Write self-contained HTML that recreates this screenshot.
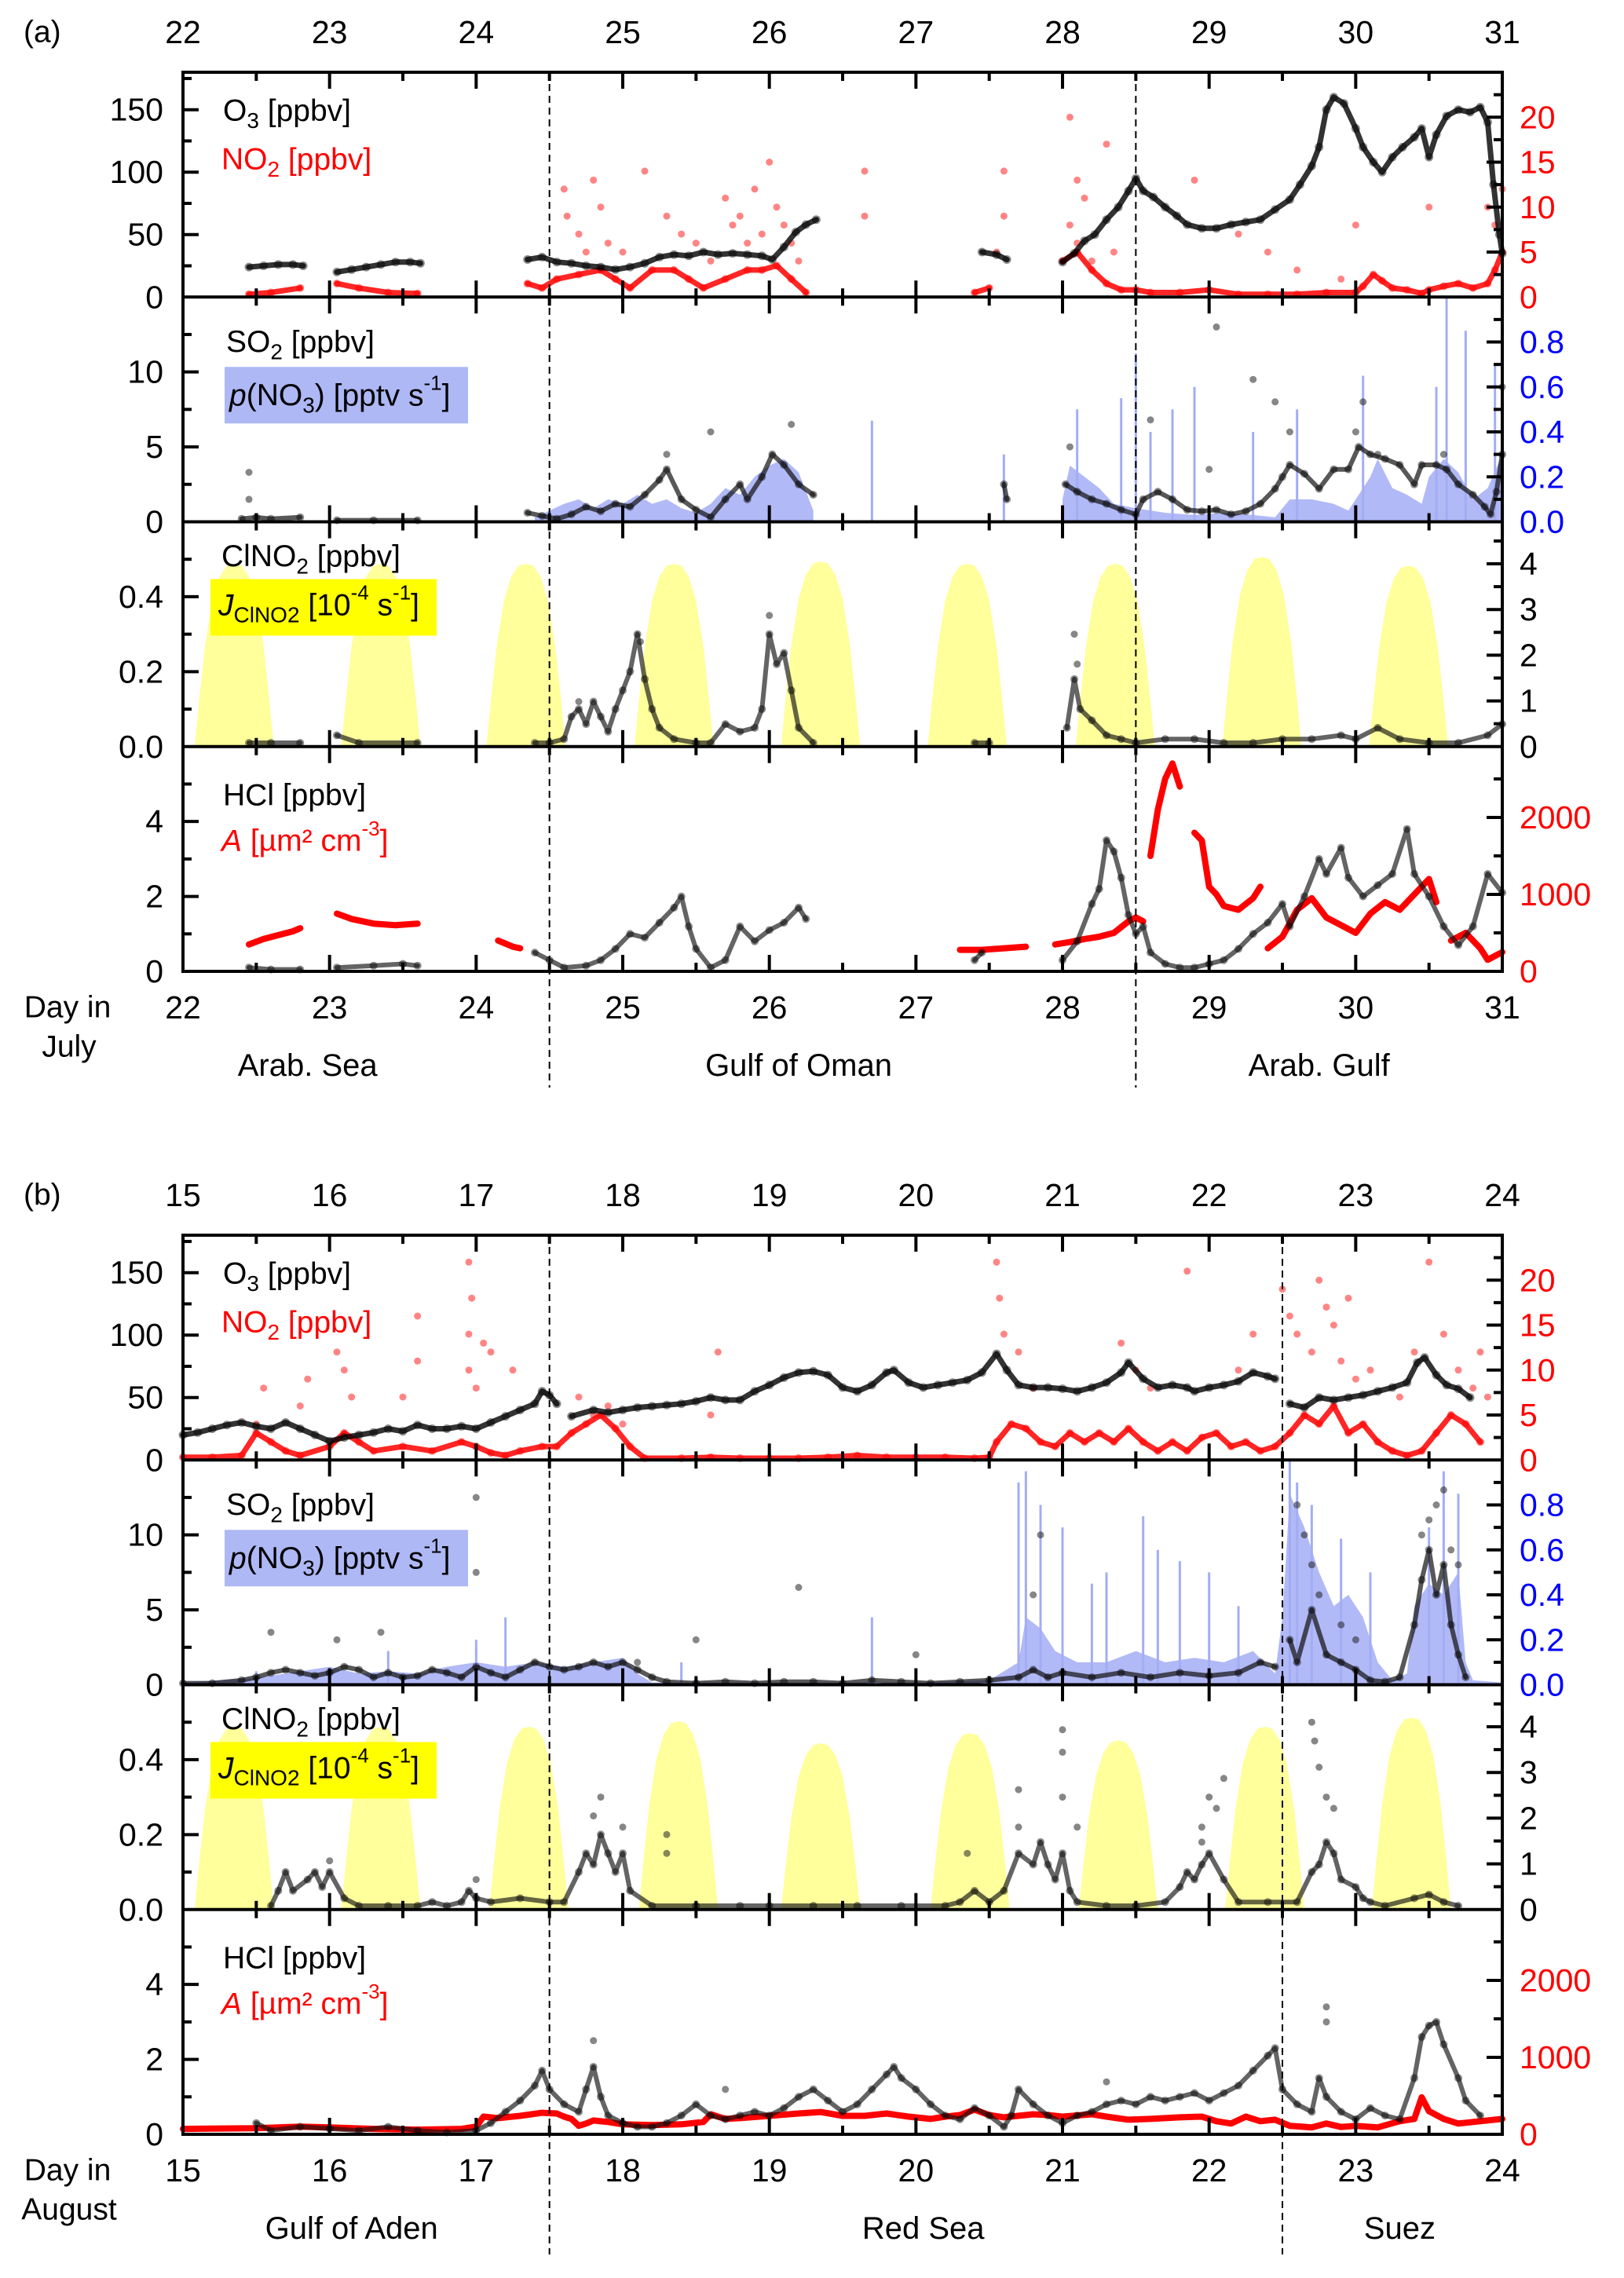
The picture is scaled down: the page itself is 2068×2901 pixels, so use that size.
<!DOCTYPE html>
<html><head><meta charset="utf-8"><title>Ship campaign trace gases</title>
<style>
html,body{margin:0;padding:0;background:#fff;}
svg{display:block;font-family:"Liberation Sans",Arial,sans-serif;}
</style></head>
<body>
<svg id="chart" xmlns="http://www.w3.org/2000/svg" width="2068" height="2901" viewBox="0 0 2068 2901"></svg>
<script>
// ---------------- DATA: panel (a), July ----------------
const daysA = [22,23,24,25,26,27,28,29,30,31];
const o3A = [[22.45,24],[22.55,25],[22.65,26],[22.75,26],[22.82,25],null,
[23.05,20],[23.15,22],[23.25,24],[23.35,26],[23.45,28],[23.55,28],[23.62,27],null,
[24.35,30],[24.45,32],[24.55,28],[24.65,27],[24.75,25],[24.85,24],[24.95,22],[25.05,24],[25.15,27],[25.25,32],[25.35,34],[25.45,33],[25.55,36],[25.65,34],[25.75,35],[25.85,34],[25.95,33],[26.02,30],[26.1,40],[26.18,52],[26.25,58],[26.32,62],null,
[27.45,36],[27.55,34],[27.62,30],null,
[28.0,28],[28.08,35],[28.15,45],[28.22,50],[28.3,62],[28.38,72],[28.45,85],[28.5,95],[28.55,85],[28.62,80],[28.7,72],[28.78,65],[28.85,58],[28.95,55],[29.05,55],[29.15,58],[29.25,60],[29.35,62],[29.45,70],[29.55,78],[29.62,90],[29.7,105],[29.75,120],[29.8,150],[29.85,160],[29.92,155],[30.0,135],[30.05,120],[30.12,108],[30.18,100],[30.25,112],[30.32,120],[30.4,128],[30.45,135],[30.5,112],[30.55,130],[30.62,145],[30.7,150],[30.78,148],[30.85,152],[30.9,140],[30.94,90],[30.98,50],[31.0,35]];
const no2A = [[22.45,0.3],[22.6,0.5],[22.8,1],null,[23.05,1.5],[23.2,1],[23.4,0.5],[23.6,0.4],null,
[24.35,1.5],[24.45,1],[24.55,2],[24.7,2.5],[24.85,3],[24.95,2],[25.05,1],[25.2,3],[25.35,3],[25.45,2],[25.55,1],[25.7,2],[25.85,3],[25.95,3],[26.05,3.5],[26.15,2],[26.25,0.5],null,
[27.4,0.5],[27.5,1],null,
[28.0,4],[28.1,5],[28.2,3],[28.3,1.5],[28.4,0.8],[28.5,0.8],[28.6,0.5],[28.8,0.5],[29.0,0.8],[29.2,0.3],[29.4,0.3],[29.6,0.3],[29.8,0.5],[30.0,0.5],[30.05,1.2],[30.12,2.5],[30.18,1.8],[30.25,1.0],[30.35,0.8],[30.45,0.4],[30.5,0.8],[30.6,1.2],[30.7,1.5],[30.8,1.0],[30.9,1.5],[30.95,3],[31.0,5]];
const no2ScatterA = [[24.6,12],[24.62,9],[24.7,7],[24.8,13],[24.85,10],[24.9,6],[24.75,5],[25.0,5],[25.15,14],[25.3,9],[25.4,7],[25.5,6],[25.6,4],[25.7,11],[25.75,8],[25.8,9],[25.85,6],[25.9,12],[25.95,7],[26.0,15],[26.05,10],[26.1,8],[26.15,6],[26.2,4],[26.65,14],[26.65,9],[27.55,5],[27.6,14],[27.6,9],[28.05,20],[28.1,13],[28.15,11],[28.3,17],[28.35,5],[28.05,8],[28.1,6],[28.2,4],[28.9,13],[29.2,7],[29.4,5],[29.6,3],[29.9,2],[30.0,8],[30.5,10],[30.9,10],[30.95,8],[31.0,12]];
const so2A = [[22.4,0.2],[22.5,0.3],[22.6,0.2],[22.8,0.3],null,[23.05,0.1],[23.3,0.1],[23.6,0.1],null,
[24.35,0.6],[24.45,0.4],[24.55,0.2],[24.65,0.5],[24.75,1.0],[24.85,0.7],[24.95,1.2],[25.05,1.0],[25.15,1.8],[25.25,2.8],[25.3,3.5],[25.4,1.5],[25.5,0.8],[25.6,0.3],[25.7,1.5],[25.8,2.5],[25.85,1.5],[25.95,3],[26.02,4.5],[26.1,3.8],[26.2,2.5],[26.3,1.8],null,
[27.6,2.5],[27.62,1.5],null,
[28.02,2.5],[28.1,2],[28.2,1.5],[28.3,1.2],[28.4,0.8],[28.5,0.5],[28.55,1.5],[28.65,2],[28.75,1.5],[28.85,0.8],[28.95,0.7],[29.05,0.8],[29.15,0.5],[29.25,0.7],[29.35,1.2],[29.45,2.2],[29.5,3],[29.55,3.8],[29.65,3.2],[29.75,2.2],[29.85,3.5],[29.95,3.5],[30.02,5],[30.1,4.5],[30.2,4.2],[30.3,3.8],[30.4,2.5],[30.45,3.8],[30.55,3.8],[30.62,3.5],[30.7,2.5],[30.8,1.8],[30.88,1.0],[30.92,0.5],[30.96,2],[31.0,4.5]];
const so2ScatterA = [[22.45,3.3],[22.45,1.5],[25.6,6],[26.15,6.5],[25.3,4.5],[28.05,5],[28.6,6.8],[29.0,3.5],[29.05,13],[29.3,9.5],[29.45,8],[29.55,6],[30.0,6],[30.05,8],[30.15,4.5],[30.6,4.5],[31.0,9]];
const pno3A = [[24.4,0.02],[24.5,0.05],[24.6,0.08],[24.7,0.1],[24.8,0.06],[24.9,0.1],[25.0,0.08],[25.1,0.12],[25.2,0.08],[25.3,0.1],[25.4,0.06],[25.5,0.04],[25.6,0.08],[25.7,0.15],[25.8,0.12],[25.9,0.2],[26.0,0.25],[26.1,0.28],[26.2,0.22],[26.3,0.05],null,
[28.0,0.1],[28.05,0.25],[28.15,0.2],[28.25,0.15],[28.35,0.08],[28.5,0.06],[28.7,0.04],[28.9,0.03],[29.1,0.04],[29.3,0.03],[29.45,0.02],[29.55,0.1],[29.7,0.1],[29.85,0.08],[29.95,0.05],[30.0,0.1],[30.1,0.2],[30.15,0.28],[30.25,0.15],[30.35,0.12],[30.45,0.08],[30.5,0.2],[30.6,0.28],[30.7,0.22],[30.8,0.1],[30.9,0.15],[31.0,0.3]];
const pno3SpikesA = [[26.7,0.45],[27.6,0.3],[28.1,0.5],[28.4,0.55],[28.5,0.75],[28.6,0.4],[28.75,0.5],[28.9,0.6],[29.3,0.4],[29.6,0.5],[30.05,0.65],[30.55,0.6],[30.62,1.0],[30.75,0.85],[30.95,0.7]];
const clno2A = [[22.45,0.01],[22.6,0.01],[22.8,0.01],null,[23.05,0.03],[23.2,0.01],[23.6,0.01],null,
[24.4,0.01],[24.5,0.01],[24.6,0.02],[24.65,0.08],[24.7,0.1],[24.75,0.06],[24.8,0.12],[24.85,0.08],[24.9,0.04],[24.95,0.1],[25.0,0.15],[25.05,0.2],[25.1,0.3],[25.15,0.18],[25.2,0.1],[25.25,0.05],[25.35,0.02],[25.5,0.01],[25.6,0.01],[25.7,0.06],[25.8,0.04],[25.9,0.05],[25.95,0.1],[26.0,0.3],[26.05,0.22],[26.1,0.25],[26.15,0.15],[26.2,0.05],[26.3,0.01],null,
[27.4,0.01],[27.5,0.01],null,
[28.03,0.05],[28.08,0.18],[28.12,0.1],[28.2,0.07],[28.3,0.03],[28.4,0.02],[28.5,0.01],[28.7,0.02],[28.9,0.02],[29.1,0.01],[29.3,0.01],[29.5,0.02],[29.7,0.02],[29.9,0.03],[30.0,0.02],[30.15,0.05],[30.3,0.02],[30.5,0.01],[30.7,0.01],[30.9,0.03],[31.0,0.06]];
const clno2ScatterA = [[28.08,0.3],[28.1,0.22],[26.0,0.35],[25.12,0.28],[24.7,0.12]];
const jDaysA = [22.35,23.35,24.34,25.35,26.35,27.35,28.36,29.36,30.36];
const jPeakA = [4.0,4.0,4.0,4.0,4.05,4.0,4.0,4.15,3.96];
const hclA = [[22.45,0.1],[22.6,0.05],[22.8,0.05],null,[23.05,0.1],[23.3,0.15],[23.5,0.2],[23.6,0.15],null,
[24.4,0.5],[24.5,0.3],[24.6,0.1],[24.75,0.15],[24.85,0.3],[24.95,0.6],[25.05,1.0],[25.15,0.9],[25.25,1.3],[25.35,1.7],[25.4,2.0],[25.45,1.2],[25.5,0.6],[25.6,0.1],[25.7,0.3],[25.8,1.2],[25.9,0.8],[26.0,1.1],[26.1,1.3],[26.2,1.7],[26.25,1.4],null,
[27.4,0.3],[27.45,0.5],null,
[28.0,0.3],[28.1,0.8],[28.2,1.8],[28.25,2.2],[28.3,3.5],[28.35,3.2],[28.4,2.5],[28.45,1.5],[28.5,1.0],[28.55,1.2],[28.6,0.5],[28.7,0.2],[28.8,0.1],[28.9,0.1],[29.0,0.2],[29.1,0.3],[29.2,0.6],[29.3,1.0],[29.4,1.3],[29.5,1.8],[29.55,1.2],[29.65,2.0],[29.75,3.0],[29.8,2.6],[29.9,3.3],[29.95,2.5],[30.05,2.0],[30.15,2.3],[30.25,2.6],[30.35,3.8],[30.4,2.6],[30.5,2.0],[30.6,1.2],[30.7,0.7],[30.8,1.2],[30.9,2.6],[31.0,2.1]];
const areaA = [[22.4,300],null,[22.45,350],[22.55,420],[22.65,470],[22.75,520],[22.8,560],null,[23.05,750],[23.15,680],[23.3,620],[23.45,600],[23.6,620],null,[24.15,400],[24.25,320],[24.3,300],null,
[27.3,280],[27.45,280],[27.6,300],[27.75,320],null,
[27.95,350],[28.05,380],[28.15,420],[28.25,450],[28.35,500],[28.45,650],[28.5,700],[28.55,650],null,
[28.6,1500],[28.65,2100],[28.7,2500],[28.75,2700],[28.8,2400],null,
[28.9,1800],[28.95,1700],[29.0,1100],[29.05,1000],[29.1,850],[29.2,800],[29.3,950],[29.35,1100],null,[29.4,300],[29.5,450],[29.6,800],[29.7,950],[29.8,700],[29.9,600],[30.0,500],[30.1,750],[30.2,900],[30.3,800],[30.4,1000],[30.5,1200],[30.55,900],null,[30.65,400],[30.75,500],[30.85,300],[30.9,150],[31.0,250]];

// ---------------- DATA: panel (b), August ----------------
const daysB = [15,16,17,18,19,20,21,22,23,24];
const o3B = [[15.0,20],[15.1,22],[15.2,25],[15.3,28],[15.4,30],[15.5,27],[15.6,25],[15.7,30],[15.8,25],[15.9,20],[16.0,15],[16.1,18],[16.2,20],[16.3,22],[16.4,25],[16.5,23],[16.6,28],[16.7,25],[16.8,25],[16.9,27],[17.0,25],[17.1,30],[17.2,35],[17.3,40],[17.4,45],[17.45,55],[17.5,52],[17.55,45],null,
[17.65,35],[17.8,40],[17.9,38],[18.0,40],[18.1,42],[18.2,43],[18.3,44],[18.4,45],[18.5,47],[18.6,50],[18.7,48],[18.8,48],[18.9,55],[19.0,60],[19.1,66],[19.2,70],[19.3,71],[19.4,68],[19.5,58],[19.6,55],[19.7,60],[19.8,70],[19.85,72],[19.95,62],[20.05,58],[20.15,60],[20.25,62],[20.35,64],[20.45,70],[20.55,85],[20.62,72],[20.7,60],[20.8,58],[20.9,58],[21.0,57],[21.1,55],[21.2,58],[21.3,62],[21.4,70],[21.45,78],[21.55,65],[21.65,58],[21.75,60],[21.85,58],[21.9,55],[22.0,58],[22.1,60],[22.2,63],[22.3,70],[22.4,67],[22.45,65],null,
[22.55,45],[22.65,42],[22.75,50],[22.85,48],[22.95,50],[23.05,52],[23.15,55],[23.25,58],[23.35,62],[23.42,78],[23.47,82],[23.55,68],[23.62,60],[23.7,57],[23.78,50]];
const no2B = [[15.0,0.3],[15.2,0.3],[15.4,0.5],[15.5,3],[15.6,2],[15.7,1],[15.8,0.5],[16.0,1.5],[16.1,3],[16.2,2],[16.3,1],[16.5,1.5],[16.7,1],[16.9,2],[17.0,1.5],[17.1,0.8],[17.2,0.5],[17.3,1],[17.45,1.5],[17.55,1.5],[17.65,3],[17.75,4],[17.85,5],[17.95,3.5],[18.05,1.5],[18.15,0.2],[18.4,0.2],[18.6,0.3],[18.8,0.2],[19.0,0.2],[19.2,0.2],[19.4,0.3],[19.6,0.5],[19.8,0.3],[20.0,0.3],[20.2,0.3],[20.4,0.2],[20.5,0.3],[20.55,2],[20.65,4],[20.75,3.5],[20.85,2],[20.95,1.5],[21.05,3],[21.15,2],[21.25,3],[21.35,2],[21.45,3.5],[21.55,2],[21.65,1],[21.75,2],[21.85,1],[21.95,2.5],[22.05,3],[22.15,1.5],[22.25,2],[22.35,1],[22.45,1.5],[22.55,3],[22.65,5],[22.75,4],[22.85,6],[22.95,3],[23.05,4],[23.15,2],[23.25,1],[23.35,0.5],[23.45,1],[23.55,3],[23.65,5],[23.75,4],[23.85,2]];
const no2ScatterB = [[15.55,8],[15.5,4],[15.8,6],[15.85,9],[16.05,12],[16.1,10],[16.15,7],[16.5,7],[16.6,11],[16.6,16],[16.95,22],[16.97,18],[16.95,14],[16.95,10],[17.05,13],[17.1,12],[17.0,8],[17.25,10],[17.7,7],[17.8,5],[17.9,6],[18.0,4],[18.6,5],[18.65,12],[20.55,22],[20.57,18],[20.6,14],[20.7,12],[20.8,8],[21.4,13],[21.5,10],[21.6,8],[21.85,21],[22.2,10],[22.3,14],[22.5,19],[22.55,16],[22.6,14],[22.7,12],[22.75,20],[22.8,17],[22.85,15],[22.9,11],[22.95,18],[23.0,9],[23.1,10],[23.3,7],[23.4,12],[23.5,22],[23.6,14],[23.7,10],[23.8,8],[23.85,12],[23.9,7]];
const so2B = [[15.0,0.1],[15.2,0.1],[15.4,0.3],[15.5,0.5],[15.6,0.8],[15.7,1.0],[15.8,0.8],[15.9,0.6],[16.0,0.8],[16.1,1.2],[16.2,1.0],[16.3,0.5],[16.4,0.8],[16.5,0.5],[16.6,0.6],[16.7,1.0],[16.8,0.8],[16.9,0.5],[17.0,1.2],[17.1,0.8],[17.2,0.5],[17.3,1.0],[17.4,1.5],[17.5,1.2],[17.6,1.0],[17.7,1.2],[17.8,1.5],[17.9,1.2],[18.0,1.5],[18.1,1.0],[18.2,0.5],[18.3,0.2],[18.5,0.1],[18.7,0.2],[18.9,0.1],[19.1,0.2],[19.3,0.2],[19.5,0.1],[19.7,0.3],[19.9,0.2],[20.1,0.1],[20.3,0.2],[20.5,0.3],[20.7,0.5],[20.8,1.0],[20.9,0.5],[21.0,0.8],[21.2,0.5],[21.4,0.8],[21.6,0.5],[21.8,0.8],[22.0,0.6],[22.2,0.8],[22.35,1.5],[22.45,1.2],null,[22.55,3],[22.6,1.5],[22.7,5],[22.8,2],[22.9,1.5],[23.0,1],[23.1,0.3],[23.2,0.2],[23.3,0.5],[23.4,4],[23.45,7],[23.5,9],[23.55,6],[23.6,8],[23.65,4],[23.7,2],[23.75,0.5]];
const so2ScatterB = [[17.0,12.5],[17.0,7.5],[16.05,3],[15.6,3.5],[16.35,3.5],[18.1,1.5],[18.5,3],[19.2,6.5],[20.0,2],[20.8,6],[20.85,10],[22.6,12],[22.65,10],[22.7,8],[22.75,6],[22.9,4],[23.0,3],[23.45,10],[23.5,11],[23.55,12],[23.6,13],[23.65,9],[23.7,8]];
const pno3B = [[15.0,0.01],[15.5,0.03],[15.8,0.06],[16.0,0.08],[16.2,0.05],[16.4,0.06],[16.6,0.05],[16.8,0.08],[17.0,0.1],[17.2,0.08],[17.4,0.1],[17.6,0.08],[17.8,0.1],[18.0,0.12],[18.1,0.05],[18.2,0.01],[18.5,0.01],[19.0,0.01],[19.5,0.01],[20.0,0.01],[20.5,0.02],[20.7,0.1],[20.75,0.3],[20.85,0.25],[20.95,0.15],[21.1,0.1],[21.3,0.1],[21.5,0.15],[21.7,0.1],[21.9,0.12],[22.1,0.1],[22.3,0.15],[22.45,0.05],[22.5,0.3],[22.55,0.85],[22.65,0.7],[22.75,0.5],[22.85,0.35],[22.95,0.4],[23.05,0.3],[23.15,0.1],[23.25,0.02],[23.35,0.05],[23.4,0.35],[23.5,0.45],[23.6,0.4],[23.7,0.5],[23.75,0.1],[23.8,0.02],[24.0,0.01]];
const pno3SpikesB = [[15.5,0.06],[16.4,0.15],[17.0,0.2],[17.2,0.3],[18.4,0.1],[19.7,0.3],[20.7,0.9],[20.75,0.95],[20.85,0.8],[21.0,0.7],[21.2,0.45],[21.3,0.5],[21.55,0.75],[21.65,0.6],[21.8,0.55],[22.0,0.5],[22.2,0.35],[22.55,1.0],[22.6,0.9],[22.7,0.8],[22.9,0.65],[23.1,0.5],[23.5,0.7],[23.6,0.95],[23.7,0.85]];
const clno2B = [[15.6,0.01],[15.65,0.05],[15.7,0.1],[15.75,0.05],[15.85,0.08],[15.9,0.1],[15.95,0.06],[16.0,0.1],[16.1,0.03],[16.2,0.01],[16.4,0.01],[16.6,0.01],[16.7,0.02],[16.8,0.01],[16.9,0.02],[16.95,0.05],[17.0,0.03],[17.1,0.02],[17.3,0.03],[17.5,0.02],[17.6,0.02],[17.7,0.1],[17.75,0.15],[17.8,0.12],[17.85,0.2],[17.9,0.15],[17.95,0.1],[18.0,0.15],[18.05,0.05],[18.2,0.01],[18.5,0.01],[18.8,0.01],[19.0,0.01],[19.3,0.01],[19.6,0.01],[19.9,0.01],[20.2,0.01],[20.3,0.02],[20.4,0.05],[20.5,0.02],[20.6,0.05],[20.7,0.15],[20.8,0.12],[20.85,0.18],[20.9,0.12],[20.95,0.08],[21.0,0.15],[21.05,0.05],[21.1,0.02],[21.3,0.01],[21.5,0.01],[21.7,0.02],[21.8,0.06],[21.85,0.1],[21.9,0.08],[21.95,0.12],[22.0,0.15],[22.1,0.08],[22.2,0.02],[22.4,0.02],[22.6,0.02],[22.7,0.1],[22.75,0.12],[22.8,0.18],[22.85,0.15],[22.9,0.08],[23.0,0.06],[23.05,0.03],[23.1,0.02],[23.2,0.01],[23.4,0.03],[23.5,0.04],[23.6,0.02],[23.7,0.01]];
const clno2ScatterB = [[16.0,0.13],[17.0,0.08],[17.8,0.25],[17.85,0.3],[18.0,0.22],[18.3,0.2],[18.3,0.15],[20.35,0.15],[20.7,0.22],[20.7,0.32],[21.0,0.42],[21.0,0.48],[21.0,0.3],[21.1,0.22],[21.95,0.22],[21.95,0.18],[22.0,0.3],[22.05,0.27],[22.1,0.35],[22.7,0.5],[22.72,0.45],[22.75,0.38],[22.8,0.3],[22.85,0.27]];
const jDaysB = [15.35,16.35,17.36,18.38,19.35,20.37,21.38,22.38,23.38];
const jPeakB = [4.0,4.0,4.0,4.12,3.64,3.86,3.7,4.0,4.2];
const hclB = [[15.5,0.3],[15.6,0.1],[15.8,0.2],[16.0,0.15],[16.2,0.1],[16.4,0.2],[16.6,0.1],[16.8,0.05],[17.0,0.1],[17.1,0.3],[17.2,0.6],[17.3,0.9],[17.4,1.3],[17.45,1.7],[17.5,1.2],[17.6,0.8],[17.7,0.6],[17.75,1.2],[17.8,1.8],[17.85,1.0],[17.9,0.5],[18.0,0.3],[18.1,0.2],[18.2,0.2],[18.3,0.3],[18.4,0.5],[18.5,0.8],[18.6,0.5],[18.7,0.4],[18.8,0.5],[18.9,0.6],[19.0,0.5],[19.1,0.7],[19.2,1.0],[19.3,1.2],[19.4,0.9],[19.5,0.6],[19.6,0.8],[19.7,1.2],[19.8,1.6],[19.85,1.8],[19.9,1.5],[20.0,1.2],[20.1,0.8],[20.2,0.5],[20.3,0.4],[20.4,0.7],[20.5,0.5],[20.6,0.2],[20.65,0.5],[20.7,1.2],[20.8,0.8],[20.9,0.5],[21.0,0.3],[21.1,0.5],[21.2,0.6],[21.3,0.8],[21.4,0.9],[21.5,0.8],[21.6,1.0],[21.7,0.9],[21.8,1.0],[21.9,1.1],[22.0,0.9],[22.1,1.1],[22.2,1.3],[22.3,1.7],[22.4,2.1],[22.45,2.3],[22.5,1.2],[22.6,0.8],[22.7,0.6],[22.75,1.5],[22.8,1.0],[22.9,0.6],[23.0,0.4],[23.1,0.7],[23.2,0.5],[23.3,0.4],[23.4,1.5],[23.45,2.6],[23.5,2.9],[23.55,3.0],[23.6,2.4],[23.7,1.5],[23.75,0.9],[23.85,0.5]];
const hclScatterB = [[17.8,2.5],[22.8,3.4],[22.8,3.0],[18.7,1.2],[21.3,1.4]];
const areaB = [[15.0,70],[15.5,80],[15.8,100],[16.0,90],[16.3,70],[16.6,60],[16.9,70],[17.0,100],[17.05,230],[17.15,210],[17.3,240],[17.45,280],[17.55,270],[17.6,230],[17.65,200],[17.7,110],[17.75,140],[17.8,180],[17.9,160],[18.0,130],[18.2,120],[18.4,130],[18.55,160],[18.6,260],[18.7,200],[18.8,210],[19.0,240],[19.2,270],[19.35,290],[19.5,240],[19.65,240],[19.8,270],[19.95,230],[20.1,200],[20.2,230],[20.3,250],[20.4,320],[20.5,250],[20.6,220],[20.8,260],[20.9,250],[21.0,230],[21.2,260],[21.3,230],[21.45,190],[21.6,200],[21.8,220],[21.95,230],[22.05,170],[22.15,140],[22.25,230],[22.35,170],[22.45,190],[22.55,110],[22.7,90],[22.8,140],[22.9,95],[23.0,110],[23.15,90],[23.3,170],[23.4,200],[23.45,480],[23.5,300],[23.6,200],[23.7,140],[23.85,170],[24.0,200]];

// normalised shape of the daily J(ClNO2) curve (offset in days, fraction of peak)
const jShapeOffsets = [-0.27,-0.24,-0.2,-0.15,-0.1,-0.05,0,0.05,0.1,0.15,0.2,0.24,0.27];
const jShapeFrac = [0,0.25,0.55,0.8,0.93,0.99,1,0.99,0.93,0.8,0.55,0.25,0];

// ---------------- DRAWING ----------------
const NS = "http://www.w3.org/2000/svg";
const svg = document.getElementById('chart');
const X0 = 233, DAYW = 186.67, PH = 286.25, XR = X0 + 9*DAYW;

function el(tag, attrs, parent) {
  const e = document.createElementNS(NS, tag);
  for (const k in attrs) e.setAttribute(k, attrs[k]);
  (parent || svg).appendChild(e);
  return e;
}
function txt(x, y, s, size, fill, anchor, parent) {
  const t = el('text', {x: x, y: y, 'font-size': size, fill: fill, 'text-anchor': anchor || 'start', 'dominant-baseline': 'central'}, parent);
  t.innerHTML = s;
  return t;
}

function drawFigure(top, start, D) {
  const g = el('g', {});
  
  
  const xs = d => X0 + (d - start) * DAYW;
  const panelTop = i => top + i * PH;
  const ys = (i, max) => v => panelTop(i) + PH - v / max * PH;

  function line(data, y, color, width, op, nm) {
    let d = '', pen = false;
    data.forEach(p => { if (!p) { pen = false; return; } d += (pen ? 'L' : 'M') + xs(p[0]).toFixed(1) + ' ' + y(p[1]).toFixed(1); pen = true; });
    const pth = el('path', {d: d, fill: 'none', stroke: color, 'stroke-width': width, 'stroke-opacity': op, 'stroke-linejoin': 'round', 'stroke-linecap': 'round'}, g);
    
    
  }
  function dots(data, y, color, r, op, nm) {
    const gg = el('g', {fill: color, 'fill-opacity': op}, g);
    
    
    data.forEach(p => { if (!p) return; el('circle', {cx: xs(p[0]).toFixed(1), cy: y(p[1]).toFixed(1), r: r}, gg); });
  }
  function area(data, y, nm) {
    let segs = [[]];
    data.forEach(p => { if (!p) segs.push([]); else segs[segs.length-1].push(p); });
    segs.forEach(s => {
      if (s.length < 2) return;
      const y0 = y(0);
      let d = 'M' + xs(s[0][0]).toFixed(1) + ' ' + y0;
      s.forEach(p => d += 'L' + xs(p[0]).toFixed(1) + ' ' + y(p[1]).toFixed(1));
      d += 'L' + xs(s[s.length-1][0]).toFixed(1) + ' ' + y0 + 'Z';
      const a = el('path', {d: d, fill: '#a3adf4', 'fill-opacity': 0.85}, g);
      
      
    });
  }
  function spikes(data, y, nm) {
    data.forEach(p => {
      const s = el('line', {x1: xs(p[0]), x2: xs(p[0]), y1: y(0), y2: y(p[1]), stroke: '#a3adf4', 'stroke-width': 3}, g);
      
      
    });
  }

  // Panel 2 area / Panel 3 J curves (background)
  const yP = ys(1, 1.0);
  area(D.pno3, yP, 'pno3-area');
  spikes(D.pno3Spikes, yP, 'pno3-spike');
  const yJ = ys(2, 4.92);
  D.jDays.forEach((c, i) => {
    let d = '';
    jShapeOffsets.forEach((o, k) => { d += (k ? 'L' : 'M') + xs(c + o).toFixed(1) + ' ' + yJ(D.jPeak[i] * jShapeFrac[k]).toFixed(1); });
    const j = el('path', {d: d + 'Z', fill: '#ffff9c'}, g);
    
    
  });

  // Panel 1: O3 + NO2
  const yO3 = ys(0, 180), yNO2 = ys(0, 25);
  dots(D.no2Scatter, yNO2, '#ff2020', 4.5, 0.55, 'no2-scatter');
  line(D.no2, yNO2, '#ff0000', 7, 0.85, 'no2-series');
  dots(D.no2, yNO2, '#ff0000', 5, 0.5, 'no2-points');
  line(D.o3, yO3, '#000', 7, 0.8, 'o3-series');
  dots(D.o3, yO3, '#000', 5.5, 0.45, 'o3-points');
  // Panel 2: SO2
  const ySO2 = ys(1, 15);
  dots(D.so2Scatter, ySO2, '#222', 4.5, 0.55, 'so2-scatter');
  line(D.so2, ySO2, '#111', 6, 0.7, 'so2-series');
  dots(D.so2, ySO2, '#000', 5, 0.45, 'so2-points');
  // Panel 3: ClNO2
  const yCl = ys(2, 0.6);
  dots(D.clScatter, yCl, '#222', 4.5, 0.55, 'clno2-scatter');
  line(D.cl, yCl, '#111', 6, 0.65, 'clno2-series');
  dots(D.cl, yCl, '#000', 5, 0.45, 'clno2-points');
  // Panel 4: HCl + A
  const yH = ys(3, 6), yA = ys(3, 2920);
  line(D.area, yA, '#ff0000', 8, 1, 'aerosol-area-series');
  if (D.hclScatter) dots(D.hclScatter, yH, '#222', 4.5, 0.55, 'hcl-scatter');
  line(D.hcl, yH, '#111', 6, 0.65, 'hcl-series');
  dots(D.hcl, yH, '#000', 5, 0.45, 'hcl-points');

  // Dashed region separators
  D.dashes.forEach(dd => {
    const l = el('line', {x1: xs(dd), x2: xs(dd), y1: top, y2: top + 4*PH + D.dashExt, stroke: '#000', 'stroke-width': 2, 'stroke-dasharray': '9 6'}, g);
    
    
  });

  // Frame & ticks
  const ax = el('g', {stroke: '#000', fill: 'none'}, g);
  
  
  el('rect', {x: X0, y: top, width: XR - X0, height: 4*PH, 'stroke-width': 4}, ax);
  for (let i = 1; i < 4; i++) el('line', {x1: X0, x2: XR, y1: panelTop(i), y2: panelTop(i), 'stroke-width': 4}, ax);
  for (let k = 0; k <= 18; k++) {
    const x = X0 + k * DAYW / 2, L = k % 2 ? 11 : 21;
    el('line', {x1: x, x2: x, y1: top, y2: top + L, 'stroke-width': 4}, ax);
    for (let i = 1; i <= 4; i++) {
      const yb = panelTop(i);
      el('line', {x1: x, x2: x, y1: yb - L, y2: i < 4 ? yb + L : yb, 'stroke-width': 4}, ax);
    }
  }
  // Y ticks: [panel, max, major step, minor step, side]
  const yt = [[0,180,50,25,'L'],[0,25,5,2.5,'R'],[1,15,5,2.5,'L'],[1,1.0,0.2,0.1,'R'],[2,0.6,0.2,0.1,'L'],[2,4.92,1,0.5,'R'],[3,6,2,1,'L'],[3,2920,1000,500,'R']];
  yt.forEach(t => {
    const y = ys(t[0], t[1]);
    for (let v = t[3]; v < t[1] - 1e-9; v += t[3]) {
      const major = Math.abs(v / t[2] - Math.round(v / t[2])) < 1e-6;
      const L = major ? 20 : 11, yy = y(v);
      if (t[4] === 'L') el('line', {x1: X0, x2: X0 + L, y1: yy, y2: yy, 'stroke-width': 4}, ax);
      else el('line', {x1: XR - L, x2: XR, y1: yy, y2: yy, 'stroke-width': 4}, ax);
    }
  });

  // Tick labels
  const tl = el('g', {}, g);
  
  
  D.days.forEach(dy => {
    txt(xs(dy), top - 51, String(dy), 41, '#000', 'middle', tl);
    txt(xs(dy), top + 4*PH + 46, String(dy), 41, '#000', 'middle', tl);
  });
  const leftL = [[0,180,[0,50,100,150],v=>String(v)],[1,15,[0,5,10],v=>String(v)],[2,0.6,[0,0.2,0.4],v=>v.toFixed(1)],[3,6,[0,2,4],v=>String(v)]];
  leftL.forEach(l => { const y = ys(l[0], l[1]); l[2].forEach(v => txt(208, y(v), l[3](v), 41, '#000', 'end', tl)); });
  const rightL = [[0,25,[0,5,10,15,20],v=>String(v),'#ff0000'],[1,1.0,[0,0.2,0.4,0.6,0.8],v=>v.toFixed(1),'#0000ff'],[2,4.92,[0,1,2,3,4],v=>String(v),'#000'],[3,2920,[0,1000,2000],v=>String(v),'#ff0000']];
  rightL.forEach(l => { const y = ys(l[0], l[1]); l[2].forEach(v => txt(1935, y(v), l[3](v), 41, l[4], 'start', tl)); });

  // Legends
  const lg = el('g', {}, g);
  
  
  txt(284, top + 49, 'O<tspan font-size="28" dy="12">3</tspan><tspan dy="-12"> [ppbv]</tspan>', 39, '#000', 'start', lg);
  txt(282, top + 111, 'NO<tspan font-size="28" dy="12">2</tspan><tspan dy="-12"> [ppbv]</tspan>', 39, '#ff0000', 'start', lg);
  txt(288, panelTop(1) + 57, 'SO<tspan font-size="28" dy="12">2</tspan><tspan dy="-12"> [ppbv]</tspan>', 39, '#000', 'start', lg);
  el('rect', {x: 286, y: panelTop(1) + 89, width: 310, height: 72, fill: '#aeb8f5'}, lg);
  txt(292, panelTop(1) + 125, '<tspan font-style="italic">p</tspan>(NO<tspan font-size="28" dy="12">3</tspan><tspan dy="-12">) [pptv s</tspan><tspan font-size="26" dy="-16">-1</tspan><tspan dy="16">]</tspan>', 39, '#000', 'start', lg);
  txt(282, panelTop(2) + 44, 'ClNO<tspan font-size="28" dy="12">2</tspan><tspan dy="-12"> [ppbv]</tspan>', 39, '#000', 'start', lg);
  el('rect', {x: 268, y: panelTop(2) + 73, width: 288, height: 72, fill: '#ffff00'}, lg);
  txt(278, panelTop(2) + 106, '<tspan font-style="italic">J</tspan><tspan font-size="28" dy="12">ClNO2</tspan><tspan dy="-12"> [10</tspan><tspan font-size="26" dy="-16">-4</tspan><tspan dy="16"> s</tspan><tspan font-size="26" dy="-16">-1</tspan><tspan dy="16">]</tspan>', 39, '#000', 'start', lg);
  txt(284, panelTop(3) + 62, 'HCl [ppbv]', 39, '#000', 'start', lg);
  txt(282, panelTop(3) + 120, '<tspan font-style="italic">A</tspan> [µm² cm<tspan font-size="26" dy="-16">-3</tspan><tspan dy="16">]</tspan>', 39, '#ff0000', 'start', lg);

  // Panel letter, x-axis title, regions
  txt(30, top - 51, D.letter, 39, '#000', 'start', g);
  txt(86, top + 4*PH + 46, 'Day in', 39, '#000', 'middle', g);
  txt(88, top + 4*PH + 96, D.month, 39, '#000', 'middle', g);
  D.regions.forEach(r => txt(xs(r[1]), top + 4*PH + 120, r[0], 40, '#000', 'middle', g));
}

drawFigure(92, 22, {name: 'panel-a-july', letter: '(a)', month: 'July', days: daysA,
  o3: o3A, no2: no2A, no2Scatter: no2ScatterA, so2: so2A, so2Scatter: so2ScatterA,
  pno3: pno3A, pno3Spikes: pno3SpikesA, cl: clno2A, clScatter: clno2ScatterA,
  jDays: jDaysA, jPeak: jPeakA, hcl: hclA, area: areaA,
  dashes: [24.5, 28.5], dashExt: 148,
  regions: [['Arab. Sea', 22.85], ['Gulf of Oman', 26.2], ['Arab. Gulf', 29.75]]});
drawFigure(1573, 15, {name: 'panel-b-august', letter: '(b)', month: 'August', days: daysB,
  o3: o3B, no2: no2B, no2Scatter: no2ScatterB, so2: so2B, so2Scatter: so2ScatterB,
  pno3: pno3B, pno3Spikes: pno3SpikesB, cl: clno2B, clScatter: clno2ScatterB,
  jDays: jDaysB, jPeak: jPeakB, hcl: hclB, hclScatter: hclScatterB, area: areaB,
  dashes: [17.5, 22.5], dashExt: 153,
  regions: [['Gulf of Aden', 16.15], ['Red Sea', 20.05], ['Suez', 23.3]]});
</script>
</body></html>
